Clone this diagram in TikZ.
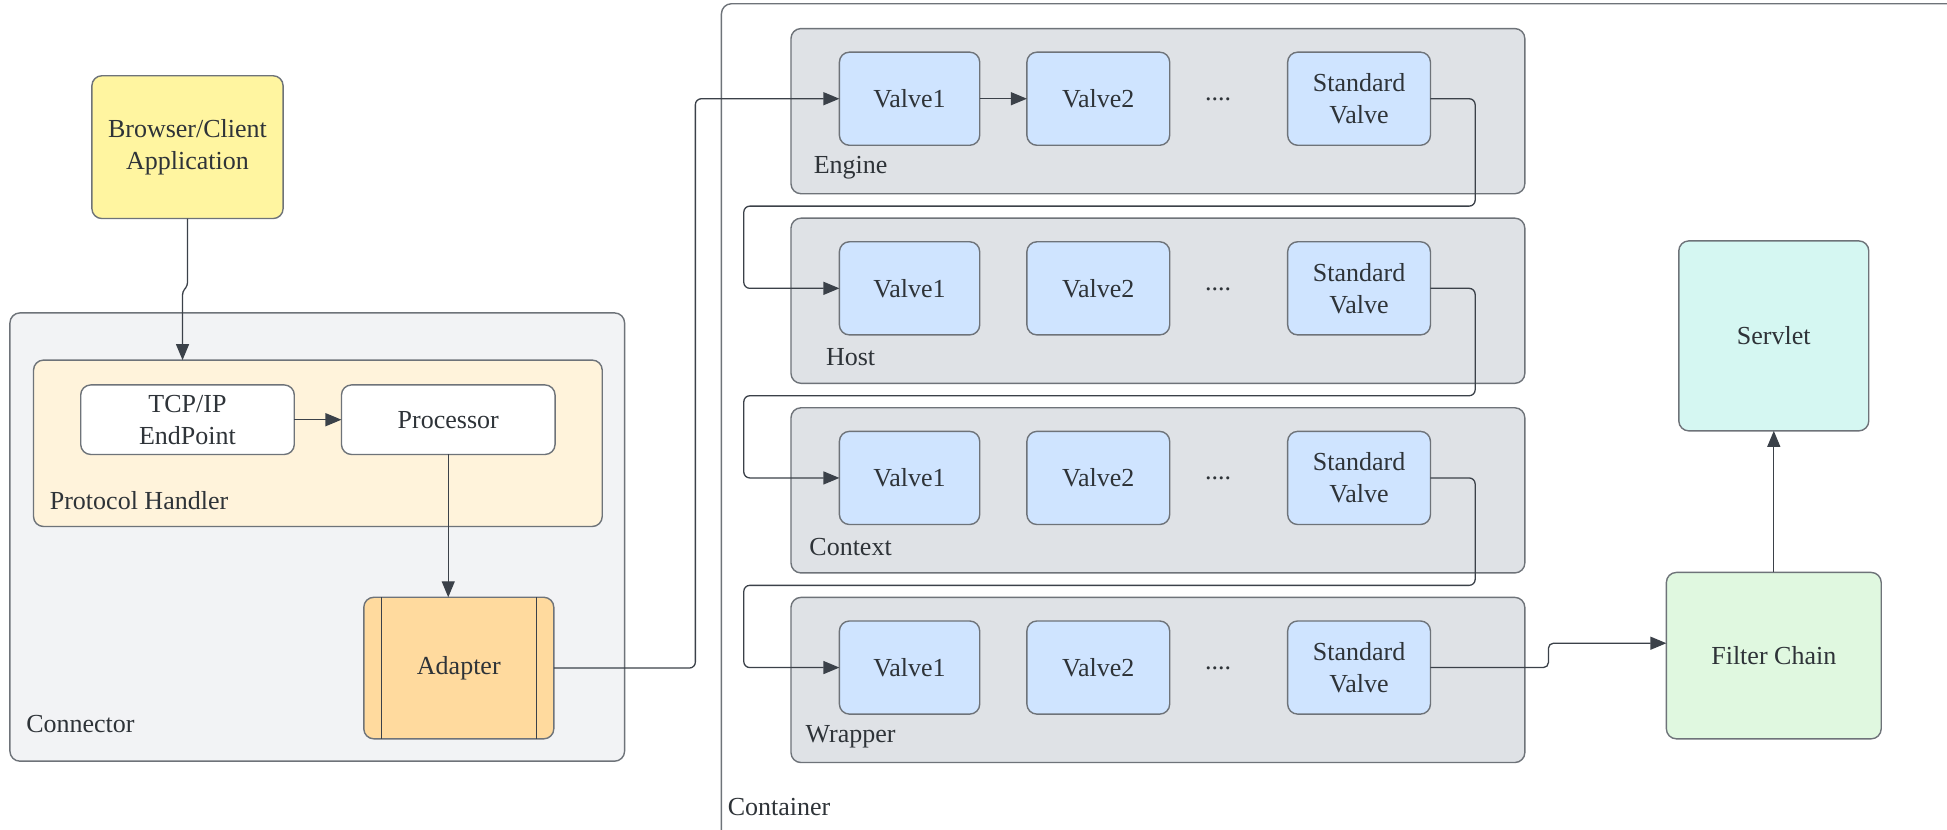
\documentclass[tikz,border=0pt]{standalone}
\usepackage{fontspec}
\setmainfont{Liberation Serif}
\usetikzlibrary{arrows.meta}
\definecolor{txt}{HTML}{2E3338}
\definecolor{brd}{HTML}{6E7379}
\definecolor{lin}{HTML}{3B4149}
\definecolor{cyellow}{HTML}{FFF5A0}
\definecolor{cconn}{HTML}{F2F3F5}
\definecolor{cph}{HTML}{FFF3DB}
\definecolor{cadapt}{HTML}{FFDA9E}
\definecolor{cgrp}{HTML}{DFE2E6}
\definecolor{cvalve}{HTML}{CFE4FF}
\definecolor{cserv}{HTML}{D5F7F2}
\definecolor{cfilt}{HTML}{E0F8E0}
\newcommand\bx[7]{\node[#6, minimum width={((#4)-(#2))*1.2417pt}, minimum height={((#5)-(#3))*1.2417pt}] (#1) at ({((#2)+(#4))/2},{((#3)+(#5))/2}) {#7};}
\tikzset{
  base/.style={draw=brd, line width=1.4pt, rounded corners=10pt, inner sep=0pt, outer sep=0pt, text=txt, font=\fontsize{26}{32}\selectfont, align=center},
  ybox/.style={base, fill=cyellow},
  connbox/.style={base, fill=cconn},
  phbox/.style={base, fill=cph},
  wbox/.style={base, fill=white},
  adbox/.style={base, fill=cadapt},
  grpbox/.style={base, fill=cgrp},
  valvebox/.style={base, fill=cvalve},
  servbox/.style={base, fill=cserv},
  filtbox/.style={base, fill=cfilt},
  lbl/.style={text=txt, font=\fontsize{26}{32}\selectfont, inner sep=0pt},
  arr/.style={draw=lin, line width=1.3pt, -{Triangle[length=16pt,width=13pt]}, rounded corners=6pt},
}
\begin{document}
\begin{tikzpicture}[x=1.2417pt,y=-1.2417pt]
\useasboundingbox[fill=white] (0,0) rectangle (1568,668);
% container
\draw[draw=brd, line width=1.4pt, rounded corners=10pt] (581,720) -- (581,3) -- (1620,3);
\node[lbl, anchor=west] (contlbl) at (586,650) {Container};
% client
\bx{browser}{74}{61}{228}{176}{ybox}{Browser/Client\\Application}
% connector
\bx{conn}{8}{252}{503}{613}{connbox}{}
\node[lbl, anchor=west] (connlbl) at (21,583) {Connector};
\bx{ph}{27}{290}{485}{424}{phbox}{}
\node[lbl, anchor=west] (phlbl) at (40,403) {Protocol Handler};
\bx{tcp}{65}{310}{237}{366}{wbox}{TCP/IP\\EndPoint}
\bx{proc}{275}{310}{447}{366}{wbox}{Processor}
\bx{adapt}{293}{481}{446}{595}{adbox}{Adapter}
\draw[draw=lin, line width=1.2pt] (307.5,481) -- (307.5,595) (432,481) -- (432,595);
% groups
\foreach \g/\lab [count=\i from 0] in {e/Engine,h/Host,c/Context,w/Wrapper}{
  \pgfmathsetmacro\yo{\i*152.7}
  \bx{\g grp}{637}{23+\yo}{1228}{156+\yo}{grpbox}{}
  \node[lbl] (\g lbl) at (685,135+\yo) {\lab};
  \bx{\g v1}{676}{42+\yo}{789}{117+\yo}{valvebox}{Valve1}
  \bx{\g v2}{827}{42+\yo}{942}{117+\yo}{valvebox}{Valve2}
  \node[lbl] (\g dots) at (981,80+\yo) {....};
  \bx{\g sv}{1037}{42+\yo}{1152}{117+\yo}{valvebox}{Standard\\Valve}
}
\bx{serv}{1352}{194}{1505}{347}{servbox}{Servlet}
\bx{filt}{1342}{461}{1515}{595}{filtbox}{Filter Chain}
% connectors
\coordinate (phin) at (147,290);
\draw[arr, rounded corners=3pt] (browser.south) -- (151,230) -- (147,235) -- (phin);
\draw[arr] (tcp.east) -- (proc.west);
\draw[arr] (proc.south) -- (adapt.north -| proc.south);
\draw[arr] (adapt.east) -- (560,538) |- (ev1.west);
\draw[arr] (ev1.east) -- (ev2.west);
\draw[arr] (esv.east) -- (1188,79.5) |- (599,166) |- (hv1.west);
\draw[arr] (hsv.east) -- (1188,232.2) |- (599,318.7) |- (cv1.west);
\draw[arr] (csv.east) -- (1188,384.9) |- (599,471.4) |- (wv1.west);
\coordinate (fcin) at (1342,518);
\draw[arr, rounded corners=5pt] (wsv.east) -- (1247,537.6) -- (1247,518) -- (fcin);
\draw[arr] (filt.north) -- (serv.south);
\end{tikzpicture}
\end{document}
